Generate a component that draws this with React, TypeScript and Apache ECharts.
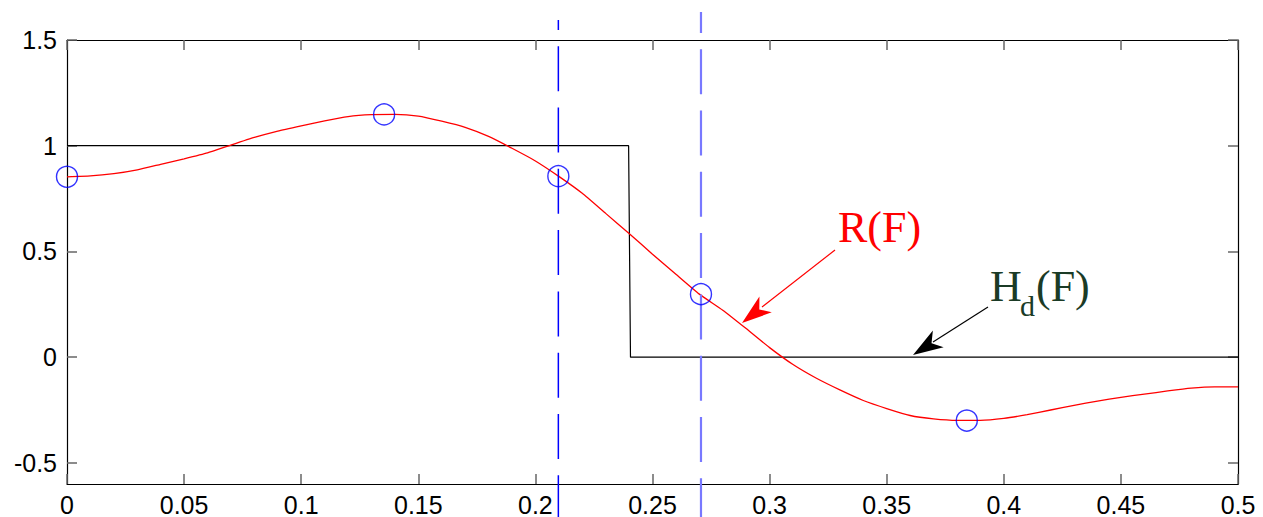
import React, { useEffect, useRef } from "react";
import * as echarts from "echarts";

// Frequency axis samples (F) and the frequency-sampling response R(F)
const freqs = [
  0, 0.01, 0.02, 0.03, 0.04, 0.05, 0.06, 0.07, 0.08, 0.09, 0.1, 0.11, 0.12, 0.13, 0.14, 0.15, 0.16,
  0.17, 0.18, 0.19, 0.2, 0.21, 0.22, 0.23, 0.24, 0.25, 0.26, 0.27, 0.28, 0.29, 0.3, 0.31, 0.32, 0.33,
  0.34, 0.35, 0.36, 0.37, 0.38, 0.39, 0.4, 0.41, 0.42, 0.43, 0.44, 0.45, 0.46, 0.47, 0.48, 0.49, 0.5,
];
const rValues = [
  0.853, 0.857, 0.868, 0.886, 0.912, 0.938, 0.966, 1.003, 1.039, 1.069, 1.094, 1.118, 1.138, 1.147,
  1.148, 1.14, 1.116, 1.087, 1.044, 0.988, 0.928, 0.855, 0.775, 0.68, 0.585, 0.487, 0.392, 0.298,
  0.222, 0.135, 0.045, -0.035, -0.1, -0.155, -0.205, -0.243, -0.276, -0.292, -0.299, -0.299, -0.29,
  -0.272, -0.25, -0.228, -0.208, -0.19, -0.175, -0.16, -0.147, -0.141, -0.141,
];

// Ideal response Hd(F)
const hdF = [0, 0.2398, 0.2406, 0.5];
const hdValues = [1, 1, 0, 0];

// Sample points (circles)
const sampleF = [0, 0.1354, 0.2098, 0.2707, 0.3842];
const sampleValues = [0.853, 1.148, 0.856, 0.298, -0.3];

// Band-edge dashed markers
const edgeF1 = 0.2098;
const edgeF2 = 0.2707;
const edge1Range = [1.595, -0.79];
const edge2Range = [1.633, -0.79];

// Axis ticks
const yTicks = [-0.5, 0, 0.5, 1, 1.5];
const xMin = 0;
const xMax = 0.5;
const xInterval = 0.05;
const yMin = -0.6;
const yMax = 1.5;

const FONT = "'Liberation Sans', Arial, Helvetica, sans-serif";
const SERIF = "'Liberation Serif', 'Times New Roman', serif";
const HD_COLOR = "#1b3b26";

function arrowHead(tip: number[], from: number[], len: number, half: number, notch: number) {
  const dx = tip[0] - from[0];
  const dy = tip[1] - from[1];
  const L = Math.hypot(dx, dy);
  const ux = dx / L;
  const uy = dy / L;
  const px = -uy;
  const py = ux;
  const bx = tip[0] - ux * len;
  const by = tip[1] - uy * len;
  return [
    [tip[0], tip[1]],
    [bx + px * half, by + py * half],
    [tip[0] - ux * notch, tip[1] - uy * notch],
    [bx - px * half, by - py * half],
  ];
}

export default function App() {
  const ref = useRef<HTMLDivElement>(null);
  useEffect(() => {
    if (!ref.current) return;
    const chart = echarts.init(ref.current, undefined, { renderer: "svg" });

    const tickStyle = { show: true, inside: true, length: 10, lineStyle: { color: "#666", width: 1.5 } };
    const axisLine = { show: true, onZero: false, lineStyle: { color: "#000", width: 1.2 } };

    const redFrom = [835, 250];
    const redTip = [742, 323];
    const blkFrom = [988, 307];
    const blkTip = [913, 355];

    chart.setOption({
      animation: false,
      backgroundColor: "#fff",
      grid: { left: 67, right: 25, top: 40, bottom: 33, containLabel: false },
      xAxis: [
        {
          type: "value",
          min: xMin,
          max: xMax,
          interval: xInterval,
          position: "bottom",
          axisLine,
          axisTick: tickStyle,
          axisLabel: { color: "#000", fontSize: 25, fontFamily: FONT, margin: 8 },
          splitLine: { show: false },
        },
        {
          type: "value",
          min: xMin,
          max: xMax,
          interval: xInterval,
          position: "top",
          axisLine,
          axisTick: tickStyle,
          axisLabel: { show: false },
          splitLine: { show: false },
        },
      ],
      yAxis: [
        {
          type: "value",
          min: yMin,
          max: yMax,
          position: "left",
          axisLine,
          axisTick: { ...tickStyle, customValues: yTicks },
          axisLabel: { color: "#000", fontSize: 25, fontFamily: FONT, margin: 10, customValues: yTicks },
          splitLine: { show: false },
        },
        {
          type: "value",
          min: yMin,
          max: yMax,
          position: "right",
          axisLine,
          axisTick: { ...tickStyle, customValues: yTicks },
          axisLabel: { show: false, customValues: yTicks },
          splitLine: { show: false },
        },
      ],
      series: [
        {
          type: "line",
          data: hdF.map((f, i) => [f, hdValues[i]]),
          symbol: "none",
          lineStyle: { color: "#000", width: 1.2 },
          z: 2,
        },
        {
          type: "line",
          data: freqs.map((f, i) => [f, rValues[i]]),
          symbol: "none",
          smooth: 0.15,
          lineStyle: { color: "#ff0000", width: 1.3 },
          z: 3,
        },
        {
          type: "line",
          clip: false,
          data: [
            [edgeF1, edge1Range[0]],
            [edgeF1, edge1Range[1]],
          ],
          symbol: "none",
          lineStyle: { color: "#0000ff", width: 1.5, type: [45, 16.3], dashOffset: 35 },
          z: 4,
        },
        {
          type: "line",
          clip: false,
          data: [
            [edgeF2, edge2Range[0]],
            [edgeF2, edge2Range[1]],
          ],
          symbol: "none",
          lineStyle: { color: "#7878ff", width: 2.2, type: [45, 16.3], dashOffset: 24 },
          z: 4,
        },
        {
          type: "scatter",
          clip: false,
          data: sampleF.map((f, i) => [f, sampleValues[i]]),
          symbol: "circle",
          symbolSize: 21,
          itemStyle: { color: "rgba(0,0,0,0)", borderColor: "#0000ff", borderWidth: 1.4 },
          z: 5,
        },
      ],
      graphic: [
        {
          type: "text",
          left: 838,
          top: 205,
          style: { text: "R(F)", fill: "#ff0000", font: `44px ${SERIF}` },
          z: 10,
        },
        {
          type: "text",
          left: 990,
          top: 264,
          style: { text: "H", fill: HD_COLOR, font: `44px ${SERIF}` },
          z: 10,
        },
        {
          type: "text",
          left: 1020,
          top: 290,
          style: { text: "d", fill: HD_COLOR, font: `30px ${SERIF}` },
          z: 10,
        },
        {
          type: "text",
          left: 1036,
          top: 264,
          style: { text: "(F)", fill: HD_COLOR, font: `44px ${SERIF}` },
          z: 10,
        },
        {
          type: "line",
          shape: { x1: redFrom[0], y1: redFrom[1], x2: redTip[0] + 20, y2: redTip[1] - 16 },
          style: { stroke: "#ff0000", lineWidth: 1.2 },
          z: 10,
        },
        {
          type: "polygon",
          shape: { points: arrowHead(redTip, redFrom, 30, 10, 22) },
          style: { fill: "#ff0000" },
          z: 10,
        },
        {
          type: "line",
          shape: { x1: blkFrom[0], y1: blkFrom[1], x2: blkTip[0] + 20, y2: blkTip[1] - 13 },
          style: { stroke: "#000", lineWidth: 1.2 },
          z: 10,
        },
        {
          type: "polygon",
          shape: { points: arrowHead(blkTip, blkFrom, 30, 10, 22) },
          style: { fill: "#000" },
          z: 10,
        },
      ],
    });
    return () => chart.dispose();
  }, []);
  return (
    <div
      ref={ref}
      style={{ position: "absolute", left: 0, top: 0, width: 1263, height: 517, background: "#fff" }}
    />
  );
}
